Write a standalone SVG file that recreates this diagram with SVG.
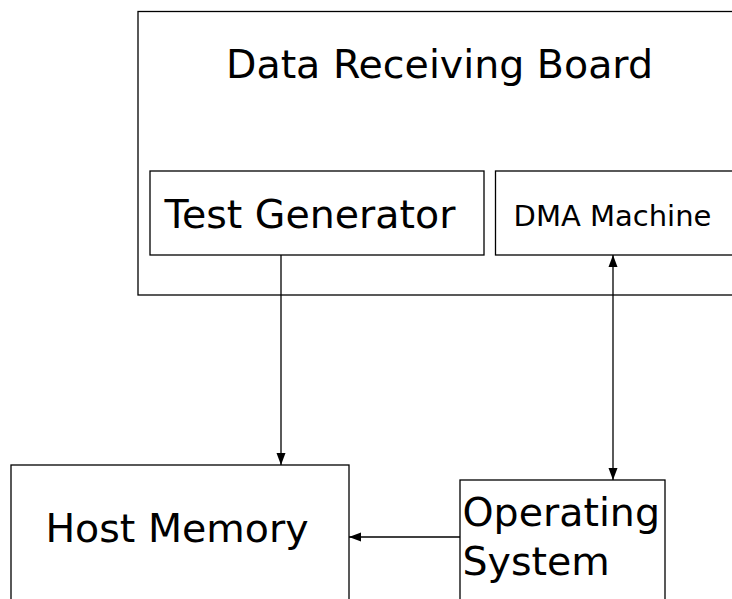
<svg xmlns="http://www.w3.org/2000/svg" width="732" height="599" viewBox="0 0 732 599">
<style>
.box{fill:#fff;stroke:#000;stroke-width:1.3}
.t{font-family:"DejaVu Sans",sans-serif;fill:#000}
.c{fill:none;stroke:#000;stroke-width:1.3}
</style>
<defs>
<marker id="ah" viewBox="0 0 12 10" refX="12" refY="5" markerWidth="12" markerHeight="10" markerUnits="userSpaceOnUse" orient="auto-start-reverse">
<path d="M0,0.5 L12,5 L0,9.5 Z" fill="#000"/>
</marker>
</defs>
<rect width="732" height="599" fill="#fff"/>
<g id="board">
<rect class="box" x="138" y="11.5" width="610" height="283.5"/>
<text class="t" x="439.5" y="78" font-size="39.5" text-anchor="middle">Data Receiving Board</text>
</g>
<g id="test-generator">
<rect class="box" x="150" y="171" width="334" height="84"/>
<text class="t" x="310" y="228" font-size="39.5" text-anchor="middle">Test Generator</text>
</g>
<g id="dma-machine">
<rect class="box" x="495.5" y="171" width="250" height="84"/>
<text class="t" x="612.5" y="226" font-size="29" text-anchor="middle">DMA Machine</text>
</g>
<g id="host-memory">
<rect class="box" x="11" y="465" width="338" height="150"/>
<text class="t" x="177" y="542" font-size="39.5" text-anchor="middle">Host Memory</text>
</g>
<g id="operating-system">
<rect class="box" x="460" y="480" width="205" height="135"/>
<text class="t" x="462.5" y="526" font-size="39.5">Operating</text>
<text class="t" x="462.5" y="575" font-size="39.5">System</text>
</g>
<g id="connectors">
<line class="c" x1="281" y1="255" x2="281" y2="465" marker-end="url(#ah)"/>
<line class="c" x1="613" y1="255" x2="613" y2="480" marker-start="url(#ah)" marker-end="url(#ah)"/>
<line class="c" x1="460" y1="537" x2="349" y2="537" marker-end="url(#ah)"/>
</g>
</svg>
